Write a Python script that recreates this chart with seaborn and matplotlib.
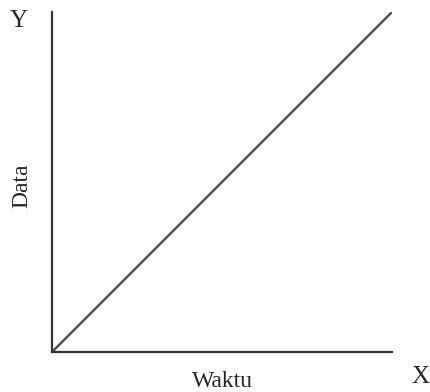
import matplotlib
matplotlib.use("Agg")
import matplotlib.pyplot as plt
import seaborn as sns
import pandas as pd

# Data: straight line from origin
waktu = [0, 1]
data = [0, 1]

sns.set_style("white")
plt.rcParams["font.family"] = ["Liberation Serif", "DejaVu Serif"]

df = pd.DataFrame({"Waktu": waktu, "Data": data})

fig = plt.figure(figsize=(4.30, 3.92), dpi=100)
ax = fig.add_axes([52 / 430, 40 / 392, 340 / 430, 340 / 392])

sns.lineplot(data=df, x="Waktu", y="Data", ax=ax, color="#505050", linewidth=1.8)

ax.set_xlim(0, 1)
ax.set_ylim(0, 1)
ax.set_xticks([])
ax.set_yticks([])
sns.despine(ax=ax)
for side in ["left", "bottom"]:
    ax.spines[side].set_color("#333333")
    ax.spines[side].set_linewidth(1.6)

ax.set_xlabel("")
ax.set_ylabel("")
ax.text(0.5, -0.088, "Waktu", transform=ax.transAxes, ha="center", va="center", fontsize=17)
ax.text(-0.088, 0.49, "Data", transform=ax.transAxes, ha="center", va="center",
        rotation=90, fontsize=17)

fig.text(19 / 430, 1 - 21 / 392, "Y", ha="center", va="center", fontsize=18)
fig.text(420 / 430, 1 - 377 / 392, "X", ha="center", va="center", fontsize=18)

fig.savefig("out.png", dpi=100)
